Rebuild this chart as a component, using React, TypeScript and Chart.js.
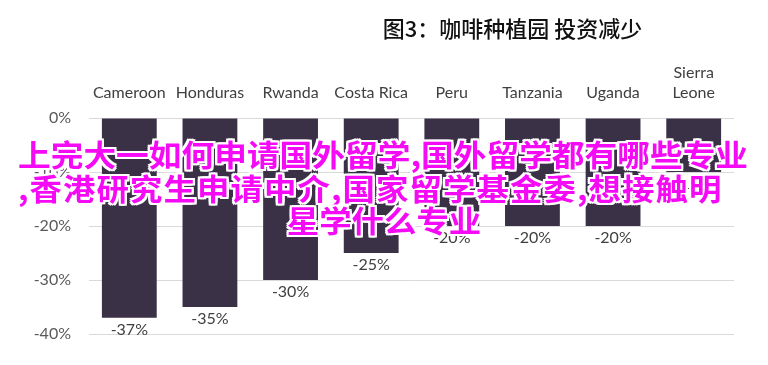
import React, { useEffect, useRef } from "react";
import { Chart, registerables } from "chart.js";

Chart.register(...registerables);

const categories: (string | string[])[] = [
  "Cameroon",
  "Honduras",
  "Rwanda",
  "Costa Rica",
  "Peru",
  "Tanzania",
  "Uganda",
  ["Sierra", "Leone"],
];
const investmentChange = [-37, -35, -30, -25, -20, -20, -20, -10];
const yTicks = [0, -10, -20, -30, -40];
const titleText = "图3：咖啡种植园 投资减少";
const overlayLines = [
  "上完大一如何申请国外留学,国外留学都有哪些专业",
  ",香港研究生申请中介,国家留学基金委,想接触明",
  "星学什么专业",
];

const LATIN = "Lato, 'Open Sans', sans-serif";
const CJK = "'Noto Sans CJK SC', sans-serif";

const titlePlugin = {
  id: "customTitle",
  afterDraw(chart: any) {
    const { ctx, chartArea } = chart;
    ctx.save();
    ctx.font = `500 22px ${CJK}`;
    ctx.fillStyle = "#111111";
    ctx.textAlign = "center";
    ctx.textBaseline = "middle";
    const cx = (chartArea.left + chartArea.right) / 2 + 101;
    ctx.fillText(titleText, cx, 29);
    ctx.restore();
  },
};

const valueLabelPlugin = {
  id: "valueLabels",
  afterDatasetsDraw(chart: any) {
    const { ctx } = chart;
    const meta = chart.getDatasetMeta(0);
    const data = chart.data.datasets[0].data as number[];
    ctx.save();
    ctx.font = `16px ${LATIN}`;
    ctx.fillStyle = "#404040";
    ctx.textAlign = "center";
    ctx.textBaseline = "middle";
    meta.data.forEach((bar: any, i: number) => {
      ctx.fillText(`${data[i]}%`, bar.x, bar.y + 12);
    });
    ctx.restore();
  },
};

export default function App() {
  const canvasRef = useRef<HTMLCanvasElement | null>(null);

  useEffect(() => {
    if (!canvasRef.current) return;
    const chart = new Chart(canvasRef.current, {
      type: "bar",
      data: {
        labels: categories,
        datasets: [
          {
            data: investmentChange,
            backgroundColor: "#3b3147",
            categoryPercentage: 0.68,
            barPercentage: 1,
          },
        ],
      },
      options: {
        animation: false,
        responsive: false,
        maintainAspectRatio: false,
        layout: { padding: { left: 0, right: 34, top: 0, bottom: 31 } },
        plugins: {
          legend: { display: false },
          title: { display: false },
          tooltip: { enabled: false },
        },
        scales: {
          x: {
            position: "top",
            grid: { display: false, drawTicks: false },
            border: { display: false },
            ticks: {
              color: "#404040",
              font: { family: LATIN, size: 16 },
              padding: 16,
              maxRotation: 0,
              autoSkip: false,
            },
            afterFit(scale: any) {
              scale.height = 118;
            },
          },
          y: {
            min: -40,
            max: 0,
            afterBuildTicks(scale: any) {
              scale.ticks = yTicks.map((v) => ({ value: v }));
            },
            grid: { color: "#d9d9d9", drawTicks: false, lineWidth: 1 },
            border: { display: false },
            ticks: {
              color: "#595959",
              font: { family: LATIN, size: 16 },
              padding: 18,
              callback: (v: any) => `${v}%`,
            },
            afterFit(scale: any) {
              scale.width = 89;
            },
          },
        },
      },
      plugins: [titlePlugin, valueLabelPlugin],
    });
    return () => chart.destroy();
  }, []);

  const outline =
    "-2px -2px 0 #fff, 2px -2px 0 #fff, -2px 2px 0 #fff, 2px 2px 0 #fff, 0 -2px 0 #fff, 0 2px 0 #fff, -2px 0 0 #fff, 2px 0 0 #fff";
  const lineStyle: React.CSSProperties = {
    position: "absolute",
    whiteSpace: "nowrap",
    fontFamily: CJK,
    fontWeight: 700,
    fontSize: 30,
    lineHeight: "33px",
    color: "#f50af5",
    textShadow: outline,
  };

  return (
    <div
      style={{
        position: "absolute",
        left: 0,
        top: 0,
        width: 768,
        height: 365,
        background: "#ffffff",
        overflow: "hidden",
      }}
    >
      <canvas ref={canvasRef} width={768} height={365} style={{ display: "block" }} />
      <div
        style={{
          ...lineStyle,
          left: 18,
          top: 137,
          transform: "scaleX(1.09)",
          transformOrigin: "left center",
        }}
      >
        {overlayLines[0]}
      </div>
      <div
        style={{
          ...lineStyle,
          left: 18,
          top: 171,
          transform: "scaleX(1.08)",
          transformOrigin: "left center",
          letterSpacing: 1,
        }}
      >
        {overlayLines[1]}
      </div>
      <div
        style={{
          ...lineStyle,
          left: 0,
          width: 768,
          textAlign: "center",
          top: 203,
          transform: "scaleX(1.08)",
          transformOrigin: "center center",
        }}
      >
        {overlayLines[2]}
      </div>
    </div>
  );
}
